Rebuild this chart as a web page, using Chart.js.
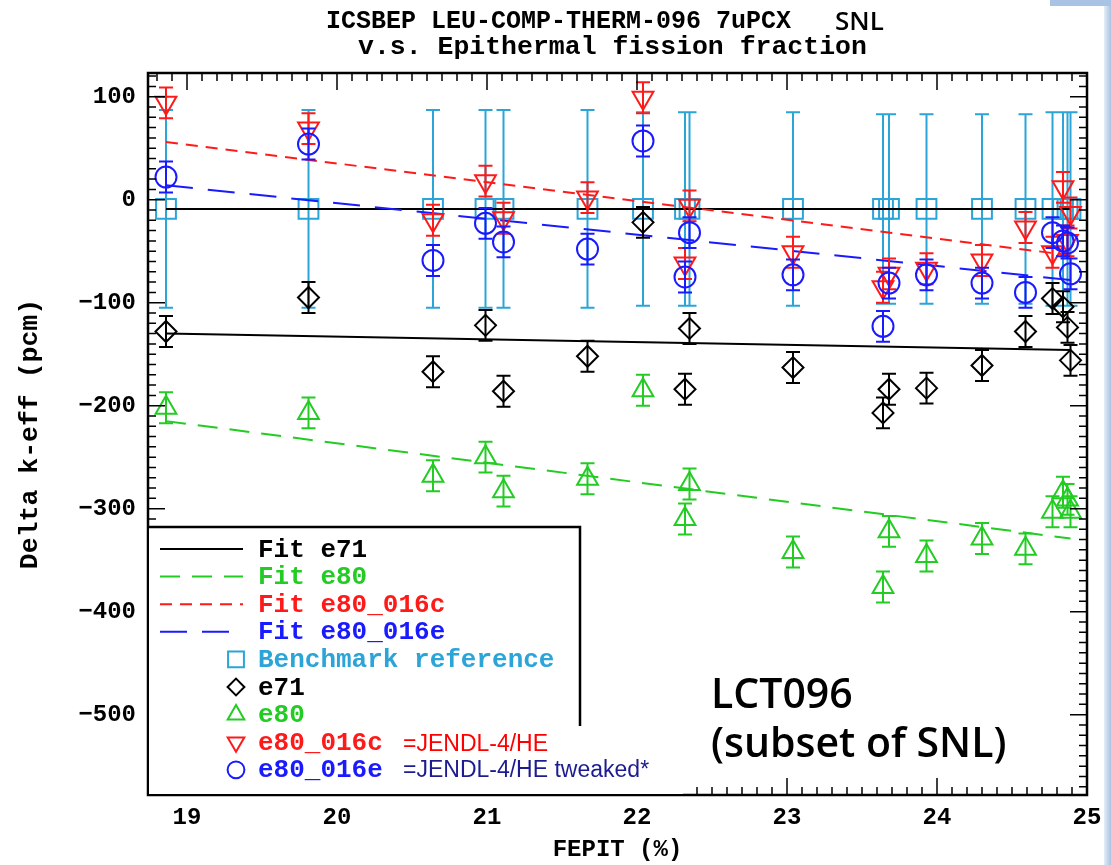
<!DOCTYPE html>
<html>
<head>
<meta charset="utf-8">
<script src="https://cdn.jsdelivr.net/npm/chart.js@4.4.1/dist/chart.umd.min.js"></script>
<style>
  body { margin: 0; background: #fff; }
  #wrap { position: relative; width: 1111px; height: 865px; overflow: hidden; background: #fff; }
  .mono { position: absolute; white-space: pre; font-family: "Liberation Mono", monospace; font-weight: bold; color: #000; }
  .sans { position: absolute; white-space: pre; font-family: "Liberation Sans", Arial, sans-serif; }
  .note { position: absolute; white-space: pre; font-family: "Open Sans", sans-serif; color: #000; }
  #edge { position: absolute; left: 1104px; top: 0; width: 7px; height: 865px;
          background: linear-gradient(to right, #e4edf7, #a8c3e3); }
  #edgeTop { position: absolute; left: 1050px; top: 0; width: 61px; height: 6px; background: #a8c3e3; }
</style>
</head>
<body>
<div id="wrap">
  <canvas id="keffChart" width="1111" height="865"></canvas>
  <div class="mono" style="left:326px;top:7px;font-size:25px">ICSBEP LEU-COMP-THERM-096 7uPCX</div>
  <div class="note" style="left:835px;top:2px;font-size:26px;font-weight:600">SNL</div>
  <div class="mono" style="left:358px;top:32px;font-size:26.5px">v.s. Epithermal fission fraction</div>
  <div class="sans" style="left:403px;top:730px;font-size:23px;color:#ff0000">=JENDL-4/HE</div>
  <div class="sans" style="left:403px;top:756px;font-size:23px;color:#1c1c8f">=JENDL-4/HE tweaked*</div>
  <div class="note" style="left:711px;top:668px;font-size:41px;line-height:49px;font-weight:600">LCT096
(subset of SNL)</div>
  <div id="edge"></div>
  <div id="edgeTop"></div>
</div>
<script>
// FEPIT (%) of each benchmark case
const fepit = [18.86, 19.81, 20.64, 20.99, 21.11, 21.67, 22.04, 22.32, 22.35, 23.04,
               23.64, 23.68, 23.93, 24.30, 24.59, 24.77, 24.84, 24.87, 24.89];
// delta k-eff (pcm)
const benchRef = [-9, -9, -9, -9, -9, -9, -9, -9, -9, -9, -9, -9, -9, -9, -9, -9, -9, -9, -9];
const benchErr = [96, 96, 96, 96, 96, 96, 94, 94, 94, 94, 92, 92, 92, 92, 92, 94, 94, 94, 94];
const e71 = [-128, -95, -167, -122, -186, -152, -22, -184, -125, -163,
             -207, -184, -183, -161, -128, -96, -104, -124, -156];
const e80 = [-202, -207, -268, -250, -283, -271, -185, -310, -276, -342,
             -376, -322, -346, -329, -339, -303, -284, -291, -303];
const e80_016c = [94, 69, -20, 18, -18, 2, 99, -62, -6, -51,
                  -85, -72, -67, -59, -27, -51, 12, -40, -13];
const e80_016e = [22, 54, -59, -23, -41, -48, 57, -75, -32, -73,
                  -123, -81, -73, -81, -90, -32, -40, -42, -72];
const calcErr = 15;

// linear fits, end points
const fitX = [18.86, 24.89];
const fitBench = [-9, -9];
const fitE71 = [-130, -146];
const fitE80 = [-215, -329];
const fitE80_016c = [56, -54];
const fitE80_016e = [14, -78];

const xTickLabels = [19, 20, 21, 22, 23, 24, 25];
const yTickLabels = [-500, -400, -300, -200, -100, 0, 100];

const CYAN = '#2ba4d8', GREEN = '#22cc22', RED = '#ff1a1a', BLUE = '#1a1aff';
const MONO = '"Liberation Mono", monospace';

const pts = (xs, ys) => xs.map((x, i) => ({x: x, y: ys[i]}));
const errs = (v) => fepit.map(() => v);

function fitLine(label, ys, color, dash, order) {
  return {
    label: label, data: pts(fitX, ys), showLine: true, borderColor: color,
    borderWidth: 2, borderDash: dash, pointRadius: 0, order: order, legendColor: color
  };
}
function markers(label, ys, err, color, style, radius, rot, order) {
  return {
    label: label, data: pts(fepit, ys), errors: err, showLine: false,
    pointStyle: style, pointRadius: radius, pointHoverRadius: radius, pointRotation: rot,
    borderColor: color, backgroundColor: 'rgba(0,0,0,0)', pointBorderWidth: 2,
    order: order, legendColor: color
  };
}

const datasets = [
  fitLine('Fit e71', fitE71, '#000', [], 5),
  fitLine('Fit e80', fitE80, GREEN, [20, 12], 6),
  fitLine('Fit e80_016c', fitE80_016c, RED, [12, 8], 7),
  fitLine('Fit e80_016e', fitE80_016e, BLUE, [27, 15], 8),
  markers('Benchmark reference', benchRef, benchErr, CYAN, 'rect', 14, 0, 10),
  markers('e71', e71, errs(calcErr), '#000', 'rectRot', 10.5, 0, 4),
  markers('e80', e80, errs(calcErr), GREEN, 'triangle', 12, 0, 3),
  markers('e80_016c', e80_016c, errs(calcErr), RED, 'triangle', 12, 180, 2),
  markers('e80_016e', e80_016e, errs(calcErr), BLUE, 'circle', 10.5, 0, 1),
  Object.assign(fitLine('', fitBench, '#000', [], 9), {inLegend: false})
];

// vertical error bars with caps, drawn just under each marker set
const errorBars = {
  id: 'errorBars',
  beforeDatasetDraw(chart, args) {
    const ds = chart.data.datasets[args.index];
    if (!ds.errors) return;
    const {ctx, scales: {y}} = chart;
    ctx.save();
    ctx.strokeStyle = ds.borderColor;
    ctx.lineWidth = 2;
    ctx.beginPath();
    args.meta.data.forEach((pt, i) => {
      const v = ds.data[i].y, e = ds.errors[i];
      const top = y.getPixelForValue(v + e), bot = y.getPixelForValue(v - e);
      ctx.moveTo(pt.x, top); ctx.lineTo(pt.x, bot);
      ctx.moveTo(pt.x - 7, top); ctx.lineTo(pt.x + 7, top);
      ctx.moveTo(pt.x - 7, bot); ctx.lineTo(pt.x + 7, bot);
    });
    ctx.stroke();
    ctx.restore();
  }
};

// IDL style box with inward ticks on all four sides
const frameTicks = {
  id: 'frameTicks',
  afterDatasetsDraw(chart) {
    const {ctx, chartArea: a, scales: {x, y}} = chart;
    ctx.save();
    ctx.strokeStyle = '#000';
    ctx.lineWidth = 1.5;
    ctx.beginPath();
    for (let i = 188; i <= 250; i++) {
      const px = x.getPixelForValue(i / 10);
      const len = i % 10 === 0 ? 17 : 8;
      ctx.moveTo(px, a.bottom); ctx.lineTo(px, a.bottom - len);
      ctx.moveTo(px, a.top); ctx.lineTo(px, a.top + len);
    }
    for (let v = -570; v <= 120; v += 10) {
      const py = y.getPixelForValue(v);
      const len = v % 100 === 0 ? 17 : 8;
      ctx.moveTo(a.left, py); ctx.lineTo(a.left + len, py);
      ctx.moveTo(a.right, py); ctx.lineTo(a.right - len, py);
    }
    ctx.stroke();
    ctx.lineWidth = 2.5;
    ctx.strokeRect(a.left, a.top, a.right - a.left, a.bottom - a.top);
    ctx.restore();
  }
};

// boxed legend in the lower left corner
const boxLegend = {
  id: 'boxLegend',
  afterDraw(chart) {
    const {ctx, chartArea: a} = chart;
    const boxTop = 527, boxRight = 580;
    ctx.save();
    ctx.fillStyle = '#fff';
    ctx.fillRect(a.left + 1, boxTop, boxRight - a.left, a.bottom - boxTop - 1);
    ctx.fillRect(398, 728, 285, a.bottom - 729);
    ctx.strokeStyle = '#000';
    ctx.lineWidth = 2.5;
    ctx.beginPath();
    ctx.moveTo(a.left, boxTop); ctx.lineTo(boxRight, boxTop); ctx.lineTo(boxRight, 726);
    ctx.stroke();
    ctx.font = 'bold 26px ' + MONO;
    ctx.textBaseline = 'middle';
    let row = 0;
    chart.data.datasets.forEach((ds) => {
      if (ds.inLegend === false) return;
      const yy = 549 + row * 27.6;
      ctx.strokeStyle = ds.borderColor;
      ctx.lineWidth = 2;
      if (ds.showLine) {
        ctx.setLineDash(ds.borderDash);
        ctx.beginPath(); ctx.moveTo(160, yy); ctx.lineTo(243, yy); ctx.stroke();
        ctx.setLineDash([]);
      } else {
        ctx.fillStyle = 'rgba(0,0,0,0)';
        Chart.helpers.drawPoint(ctx, {
          pointStyle: ds.pointStyle, radius: ds.pointRadius * 0.8,
          rotation: ds.pointRotation, borderWidth: 2
        }, 236, yy);
      }
      ctx.fillStyle = ds.legendColor;
      ctx.fillText(ds.label, 258, yy + 1);
      row++;
    });
    ctx.restore();
  }
};

const monoTick = {family: MONO, size: 24, weight: 'bold'};

new Chart(document.getElementById('keffChart'), {
  type: 'scatter',
  data: {datasets: datasets},
  options: {
    responsive: false,
    devicePixelRatio: 1,
    animation: false,
    layout: {padding: {top: 73, right: 24, left: 0, bottom: 0}},
    plugins: {legend: {display: false}, tooltip: {enabled: false}, title: {display: false}},
    scales: {
      x: {
        type: 'linear', min: 18.74, max: 25,
        afterFit: (s) => { s.height = 70; },
        afterBuildTicks: (s) => { s.ticks = xTickLabels.map(v => ({value: v})); },
        grid: {display: false, drawTicks: false},
        border: {display: false},
        ticks: {color: '#000', font: monoTick, padding: 9, maxRotation: 0},
        title: {display: true, text: 'FEPIT (%)', color: '#000', font: {family: MONO, size: 24, weight: 'bold'},
                padding: {top: 0, bottom: 1}}
      },
      y: {
        type: 'linear', min: -578, max: 123,
        afterFit: (s) => { s.width = 148; },
        afterBuildTicks: (s) => { s.ticks = yTickLabels.map(v => ({value: v})); },
        grid: {display: false, drawTicks: false},
        border: {display: false},
        ticks: {color: '#000', font: monoTick, padding: 12,
                callback: (v) => String(v).replace('-', '\u2212')},
        title: {display: true, text: 'Delta k-eff (pcm)', color: '#000',
                font: {family: MONO, size: 26.5, weight: 'bold'}, padding: {top: 14, bottom: 0}}
      }
    }
  },
  plugins: [errorBars, frameTicks, boxLegend]
});
</script>
</body>
</html>
